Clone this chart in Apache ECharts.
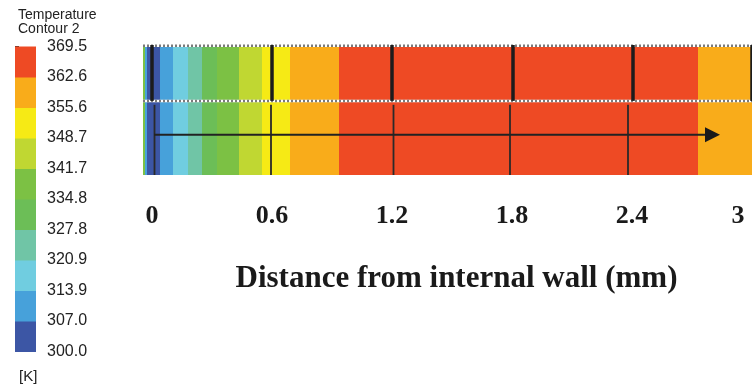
<!DOCTYPE html>
<html>
<head>
<meta charset="utf-8">
<script src="https://cdn.jsdelivr.net/npm/echarts@6/dist/echarts.min.js"></script>
<style>
  html, body { margin: 0; padding: 0; background: #fff; }
  #chart { width: 752px; height: 387px; }
</style>
</head>
<body>
<div id="chart"></div>
<script>
// colour bar levels [K], bottom to top
const levelLabels = ['300.0', '307.0', '313.9', '320.9', '327.8', '334.8', '341.7', '348.7', '355.6', '362.6', '369.5'];
const palette = ['#3c56a5', '#47a1da', '#70cde0', '#70c5a6', '#6cbe57', '#7cc144', '#c0d732', '#f6ea15', '#f9ac1a', '#ee4a24'];

// contour bands along the wall distance (mm) and the level index of each
const bandStart = [-0.045, -0.035, -0.025, 0.04, 0.105, 0.18, 0.25, 0.325, 0.435, 0.55, 0.69, 0.935, 2.73];
const bandEnd   = [-0.035, -0.025, 0.04, 0.105, 0.18, 0.25, 0.325, 0.435, 0.55, 0.69, 0.935, 2.73, 3.0];
const bandLevel = [5, 1, 0, 1, 2, 3, 4, 5, 6, 7, 8, 9, 8];

// x tick labels (mm)
const xTicks = [0, 0.6, 1.2, 1.8, 2.4, 3];

// grid lines drawn on the contour: upper strip and lower strip
const upperLines = [0, 0.6, 1.2, 1.805, 2.405, 3.0];
const lowerLines = [0.0125, 0.595, 1.2075, 1.79, 2.38];

// dashed separators (height fraction), arrow [from, to, height]
const dashedRows = [0.995, 0.57];
const arrowData = [[0.01, 2.84, 0.31]];
const upperBottom = 0.57;
const lowerTop = 0.54;

const chart = echarts.init(document.getElementById('chart'), null, { renderer: 'canvas' });

const bandData = bandStart.map((s, i) => [s, bandEnd[i], bandLevel[i]]);
const barData = palette.map((c, i) => [i]);

const option = {
  animation: false,
  backgroundColor: '#fff',
  title: [
    {
      text: 'Temperature\nContour 2',
      left: 13, top: 3,
      textStyle: { fontFamily: 'Liberation Sans, Arial', fontSize: 14, fontWeight: 'normal', color: '#222', lineHeight: 14 }
    },
    {
      text: '[K]',
      left: 14, top: 364,
      textStyle: { fontFamily: 'Liberation Sans, Arial', fontSize: 15, fontWeight: 'normal', color: '#222' }
    }
  ],
  grid: [
    { left: 143, right: 0, top: 45, height: 130, outerBoundsMode: 'none' },
    { left: 15, width: 21, top: 46.5, height: 305, outerBoundsMode: 'none' }
  ],
  xAxis: [
    {
      gridIndex: 0,
      type: 'value',
      min: -0.045,
      max: 3,
      axisLine: { show: false },
      axisTick: { show: false },
      splitLine: { show: false },
      axisLabel: {
        customValues: xTicks,
        margin: 28,
        formatter: v => v === 3 ? '{r|3}' : String(v),
        rich: { r: { padding: [0, 28, 0, 0], fontFamily: 'Liberation Serif, Times New Roman', fontWeight: 'bold', fontSize: 26, color: '#1a1a1a' } },
        fontFamily: 'Liberation Serif, Times New Roman',
        fontWeight: 'bold',
        fontSize: 26,
        color: '#1a1a1a'
      },
      name: 'Distance from internal wall (mm)',
      nameLocation: 'middle',
      nameGap: 88,
      nameTextStyle: {
        fontFamily: 'Liberation Serif, Times New Roman',
        fontWeight: 'bold',
        fontSize: 31,
        color: '#1a1a1a',
        padding: [0, 0, 0, 18]
      }
    },
    {
      gridIndex: 1,
      type: 'value',
      min: 0, max: 1,
      show: false
    }
  ],
  yAxis: [
    {
      gridIndex: 0,
      type: 'value',
      min: 0, max: 1,
      show: false
    },
    {
      gridIndex: 1,
      type: 'category',
      data: levelLabels,
      boundaryGap: false,
      position: 'right',
      axisLine: { show: false },
      axisTick: { show: true, length: 4, lineStyle: { color: '#333' } },
      splitLine: { show: false },
      axisLabel: {
        interval: 0,
        margin: 11,
        fontFamily: 'Liberation Sans, Arial',
        fontSize: 16,
        color: '#222'
      }
    }
  ],
  series: [
    {
      name: 'bands',
      type: 'custom',
      xAxisIndex: 0, yAxisIndex: 0,
      data: bandData,
      encode: { x: [0, 1] },
      renderItem: (params, api) => {
        const a = api.coord([api.value(0), 1]);
        const b = api.coord([api.value(1), 0]);
        return {
          type: 'rect',
          shape: { x: a[0], y: a[1], width: b[0] - a[0] + 0.5, height: b[1] - a[1] },
          style: { fill: palette[api.value(2)] }
        };
      }
    },
    {
      name: 'dashed',
      type: 'custom',
      xAxisIndex: 0, yAxisIndex: 0,
      data: dashedRows.map(y => [y]),
      encode: { y: 0 },
      renderItem: (params, api) => {
        const a = api.coord([-0.045, api.value(0)]);
        const b = api.coord([3, api.value(0)]);
        return {
          type: 'group',
          children: [
            { type: 'line', shape: { x1: a[0], y1: a[1], x2: b[0], y2: b[1] }, style: { stroke: '#fff', lineWidth: 2.5 } },
            { type: 'line', shape: { x1: a[0], y1: a[1], x2: b[0], y2: b[1] }, style: { stroke: '#7a7a7a', lineWidth: 2.5, lineDash: [2, 2] } }
          ]
        };
      }
    },
    {
      name: 'upper lines',
      type: 'custom',
      xAxisIndex: 0, yAxisIndex: 0,
      data: upperLines.map(x => [x]),
      encode: { x: 0 },
      renderItem: (params, api) => {
        const a = api.coord([api.value(0), 1]);
        const b = api.coord([api.value(0), upperBottom]);
        return { type: 'line', shape: { x1: a[0], y1: a[1], x2: b[0], y2: b[1] }, style: { stroke: '#1c1c1c', lineWidth: 3.5 } };
      }
    },
    {
      name: 'lower lines',
      type: 'custom',
      xAxisIndex: 0, yAxisIndex: 0,
      data: lowerLines.map(x => [x]),
      encode: { x: 0 },
      renderItem: (params, api) => {
        const a = api.coord([api.value(0), lowerTop]);
        const b = api.coord([api.value(0), 0]);
        return { type: 'line', shape: { x1: a[0], y1: a[1], x2: b[0], y2: b[1] }, style: { stroke: '#2a2a2a', lineWidth: 1.8 } };
      }
    },
    {
      name: 'arrow',
      type: 'custom',
      xAxisIndex: 0, yAxisIndex: 0,
      data: arrowData,
      encode: { x: [0, 1], y: 2 },
      renderItem: (params, api) => {
        const a = api.coord([api.value(0), api.value(2)]);
        const b = api.coord([api.value(1), api.value(2)]);
        const head = 15;
        return {
          type: 'group',
          children: [
            { type: 'line', shape: { x1: a[0], y1: a[1], x2: b[0] - head + 2, y2: b[1] }, style: { stroke: '#222', lineWidth: 2 } },
            { type: 'polygon', shape: { points: [[b[0] - head, b[1] - 7.5], [b[0], b[1]], [b[0] - head, b[1] + 7.5]] }, style: { fill: '#1a1a1a' } }
          ]
        };
      }
    },
    {
      name: 'colour bar',
      type: 'custom',
      xAxisIndex: 1, yAxisIndex: 1,
      data: barData,
      encode: { y: 0 },
      renderItem: (params, api) => {
        const i = api.value(0);
        const a = api.coord([0, i + 1]);
        const b = api.coord([1, i]);
        return {
          type: 'rect',
          shape: { x: a[0], y: a[1], width: b[0] - a[0], height: b[1] - a[1] + 0.5 },
          style: { fill: palette[i] }
        };
      }
    }
  ]
};

chart.setOption(option);
</script>
</body>
</html>
